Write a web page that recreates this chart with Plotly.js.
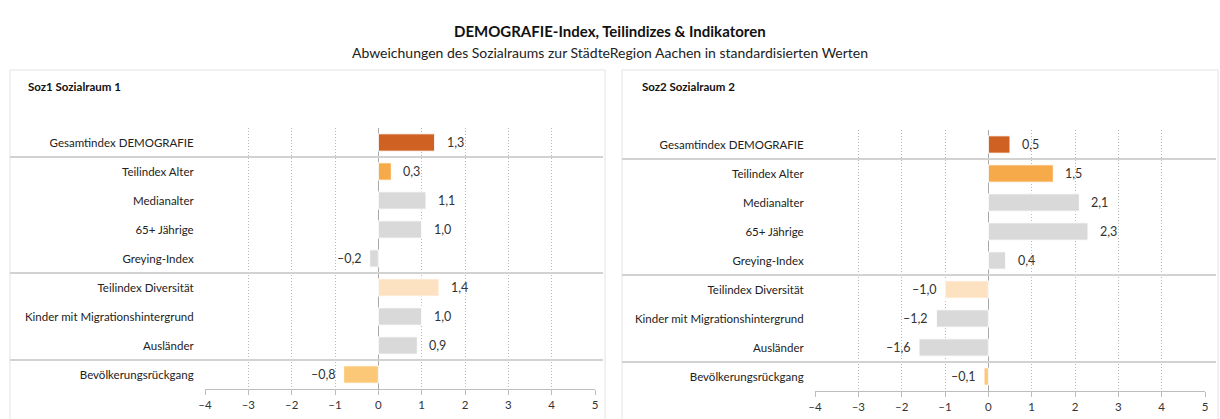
<!DOCTYPE html>
<html><head><meta charset="utf-8">
<script src="https://cdn.plot.ly/plotly-3.0.1.min.js"></script>
<style>body{margin:0;background:#fff}#chart{width:1220px;height:419px}</style>
</head><body><div id="chart"></div>
<script>
const categories = ["Gesamtindex DEMOGRAFIE","Teilindex Alter","Medianalter","65+ Jährige","Greying-Index","Teilindex Diversität","Kinder mit Migrationshintergrund","Ausländer","Bevölkerungsrückgang"];
const soz1Values = [1.3, 0.3, 1.1, 1.0, -0.2, 1.4, 1.0, 0.9, -0.8];
const soz2Values = [0.5, 1.5, 2.1, 2.3, 0.4, -1.0, -1.2, -1.6, -0.1];
const barColors = ["#cf6222","#f7aa4a","#d9d9d9","#d9d9d9","#d9d9d9","#fde2c2","#d9d9d9","#d9d9d9","#fbc878"];
const panelTitles = ["Soz1 Sozialraum 1","Soz2 Sozialraum 2"];
const xTicks = [-4,-3,-2,-1,0,1,2,3,4,5];
const groupBreaks = [0.5, 4.5, 7.5];

const W = 1220, H = 419;
const px = v => v / W, py = v => 1 - v / H;
const FONT = "Lato, 'Open Sans', sans-serif";
const fmt = v => (v < 0 ? "–" : "") + Math.abs(v).toFixed(1).replace(".", ",");

const panels = [
  {vals: soz1Values, xa: "x", ya: "y", dom: [px(205), px(595)], ydom: [py(389), py(128)], box: [10, 605], title: panelTitles[0], tx: 26},
  {vals: soz2Values, xa: "x2", ya: "y2", dom: [px(815), px(1205)], ydom: [py(391), py(130)], box: [622, 1218], title: panelTitles[1], tx: 640}
];

const data = [], shapes = [], annotations = [];
annotations.push({text: "<b>DEMOGRAFIE-Index, Teilindizes & Indikatoren</b>", x: 0.5, y: py(20), xref: "paper", yref: "paper", showarrow: false, font: {family: FONT, size: 15, color: "#111"}});
annotations.push({text: "Abweichungen des Sozialraums zur StädteRegion Aachen in standardisierten Werten", x: 0.5, y: py(42), xref: "paper", yref: "paper", showarrow: false, font: {family: FONT, size: 14, color: "#222"}});

const layout = {
  width: W, height: H, margin: {l: 0, r: 0, t: 0, b: 0},
  paper_bgcolor: "#fff", plot_bgcolor: "rgba(0,0,0,0)",
  showlegend: false, separators: ",.", bargap: 0.4,
  font: {family: FONT, size: 11, color: "#333"}
};

panels.forEach((p, i) => {
  const sfx = i === 0 ? "" : "2";
  data.push({
    type: "bar", orientation: "h", x: p.vals, y: categories,
    xaxis: p.xa, yaxis: p.ya,
    marker: {color: barColors, line: {color: "#ffffff", width: 1}},
    hoverinfo: "skip"
  });
  layout["xaxis" + sfx] = {
    domain: p.dom, anchor: p.ya, range: [-4, 5], tickvals: xTicks,
    ticktext: xTicks.map(t => (t < 0 ? "–" : "") + Math.abs(t)),
    showgrid: true, gridcolor: "#b8b8b8", griddash: "1px,2px", gridwidth: 1,
    zeroline: true, zerolinecolor: "#a8a8a8", zerolinewidth: 1,
    showline: true, linecolor: "#bdbdbd", linewidth: 1,
    ticks: "outside", ticklen: 5, tickcolor: "#bdbdbd",
    tickfont: {family: FONT, size: 11.5, color: "#333"}, fixedrange: true
  };
  layout["yaxis" + sfx] = {
    domain: p.ydom, anchor: p.xa, type: "category",
    categoryorder: "array", categoryarray: categories, autorange: "reversed",
    showgrid: false, zeroline: false, showline: false,
    ticks: "outside", ticklen: 8, tickcolor: "rgba(0,0,0,0)",
    tickfont: {family: FONT, size: 11.5, color: "#222"}, fixedrange: true
  };
  shapes.push({type: "rect", xref: "paper", yref: "paper", x0: px(p.box[0]), x1: px(p.box[1]), y0: -0.2, y1: py(70), line: {color: "#e3e3e3", width: 1}, layer: "below"});
  groupBreaks.forEach(b => shapes.push({type: "line", xref: "paper", yref: p.ya, x0: px(p.box[0]), x1: px(p.box[1] - 2), y0: b, y1: b, line: {color: "#d2d2d2", width: 2}}));
  annotations.push({text: "<b>" + p.title + "</b>", x: px(p.tx), y: py(87), xref: "paper", yref: "paper", xanchor: "left", yanchor: "middle", showarrow: false, font: {family: FONT, size: 11.5, color: "#111"}});
  p.vals.forEach((v, k) => annotations.push({
    text: fmt(v), x: v, y: categories[k], xref: p.xa, yref: p.ya,
    xanchor: v < 0 ? "right" : "left", xshift: v < 0 ? -6 : 10,
    showarrow: false, font: {family: FONT, size: 12.5, color: "#333"}
  }));
});

layout.shapes = shapes;
layout.annotations = annotations;
Plotly.newPlot("chart", data, layout, {displayModeBar: false, staticPlot: true});
</script></body></html>
